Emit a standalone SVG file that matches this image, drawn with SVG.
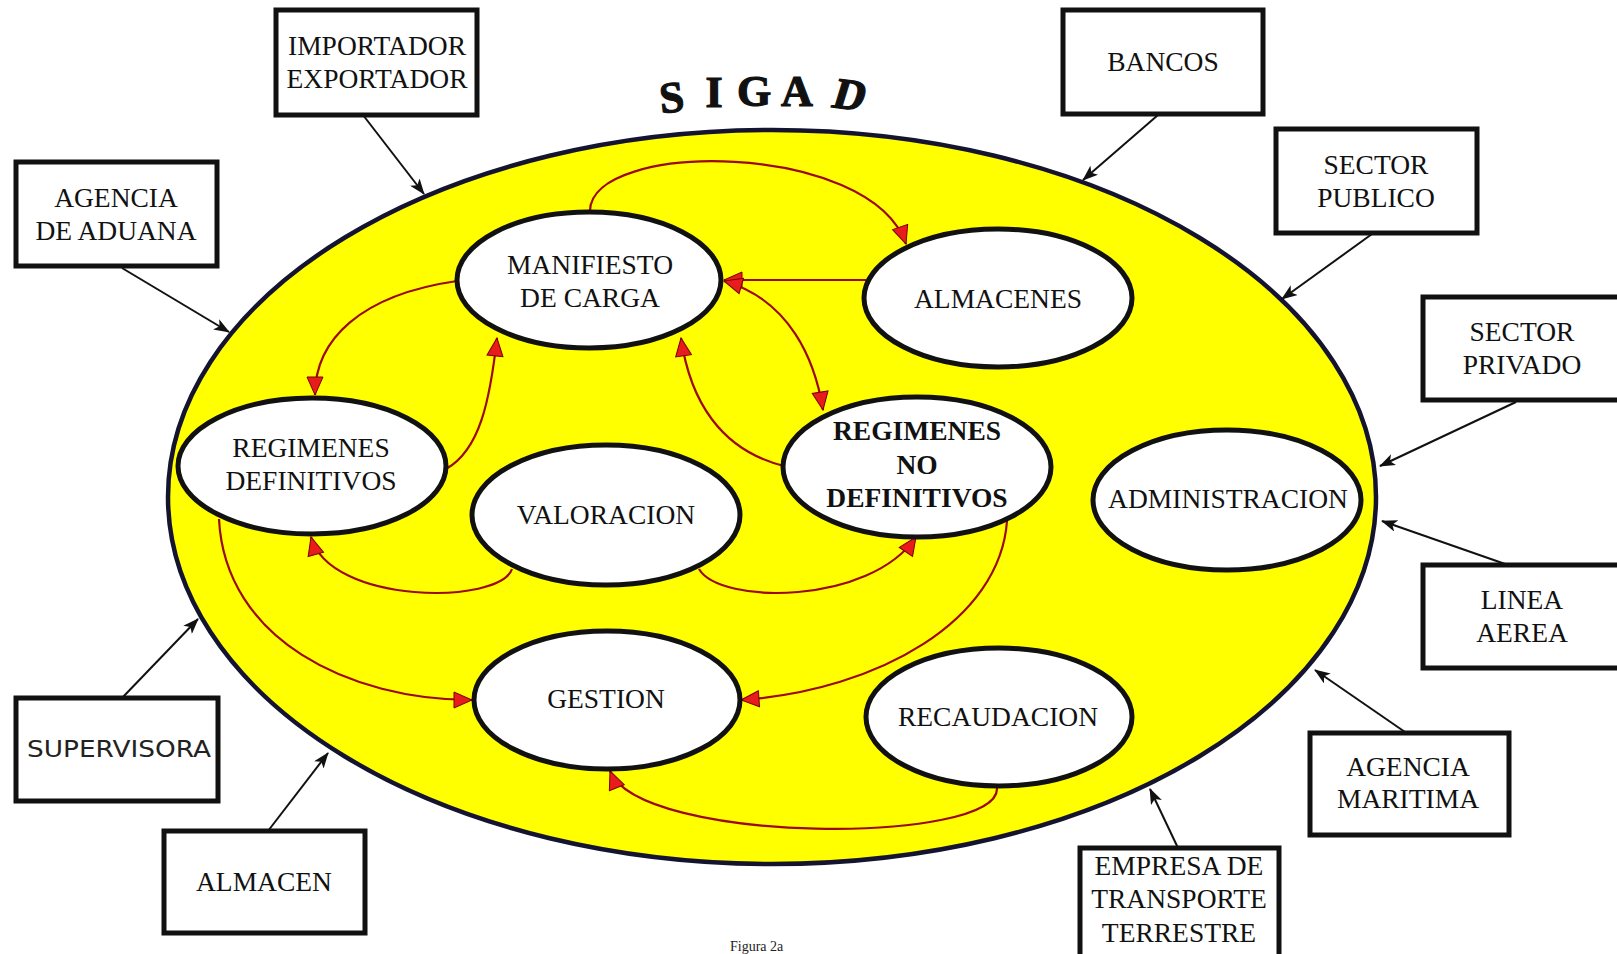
<svg xmlns="http://www.w3.org/2000/svg" width="1617" height="954" viewBox="0 0 1617 954">
<defs>
<style>
.box{fill:#fff;stroke:#111;stroke-width:5}
.node{fill:#fff;stroke:#111;stroke-width:5}
.t{font-family:"Liberation Serif","Times New Roman",serif;font-size:27.5px;fill:#111;text-anchor:middle}
.b{font-weight:bold}
.blk{fill:none;stroke:#111;stroke-width:2}
.red{fill:none;stroke:#9b0a0a;stroke-width:2.2}
</style>
<marker id="ab" viewBox="0 0 16 12" refX="15" refY="6" markerWidth="16" markerHeight="12" markerUnits="userSpaceOnUse" orient="auto">
<path d="M0,0 L16,6 L0,12 L4,6 z" fill="#111"/>
</marker>
<marker id="ar" viewBox="0 0 20 18" refX="19" refY="9" markerWidth="20" markerHeight="18" markerUnits="userSpaceOnUse" orient="auto-start-reverse">
<path d="M1,1 L19,9 L1,17 z" fill="#e81c1c" stroke="#7a0000" stroke-width="1"/>
</marker>
</defs>
<rect width="1617" height="954" fill="#fff"/>

<g id="sigad-system">
<ellipse cx="772" cy="497" rx="604" ry="367" fill="#ffff00" stroke="#141430" stroke-width="4.5"/>
</g>

<g id="title" font-family="'Liberation Serif','Times New Roman',serif" font-weight="bold" font-size="44" fill="#111" stroke="#111" stroke-width="1.2" text-anchor="middle">
<text x="672" y="112" transform="rotate(-6 672 100)">S</text>
<text x="714" y="107">I</text>
<text x="754" y="106">G</text>
<text x="797" y="106">A</text>
<text transform="translate(846 109) rotate(7) skewX(-10)">D</text>
</g>

<g id="connectors">
<line class="blk" x1="363" y1="115" x2="424" y2="194" marker-end="url(#ab)"/>
<line class="blk" x1="122" y1="268" x2="229" y2="332" marker-end="url(#ab)"/>
<line class="blk" x1="1158" y1="115" x2="1083" y2="180" marker-end="url(#ab)"/>
<line class="blk" x1="1372" y1="234" x2="1282" y2="299" marker-end="url(#ab)"/>
<line class="blk" x1="1516" y1="402" x2="1380" y2="466" marker-end="url(#ab)"/>
<line class="blk" x1="1508" y1="565" x2="1382" y2="521" marker-end="url(#ab)"/>
<line class="blk" x1="1405" y1="732" x2="1315" y2="670" marker-end="url(#ab)"/>
<line class="blk" x1="1178" y1="848" x2="1150" y2="789" marker-end="url(#ab)"/>
<line class="blk" x1="268" y1="831" x2="328" y2="753" marker-end="url(#ab)"/>
<line class="blk" x1="122" y1="698" x2="198" y2="619" marker-end="url(#ab)"/>

<path class="red" d="M590 211 C590 140 870 140 906 244" marker-end="url(#ar)"/>
<path class="red" d="M866 280 L724 280" marker-end="url(#ar)"/>
<path class="red" d="M724 281 C790 300 815 360 823 410" marker-start="url(#ar)" marker-end="url(#ar)"/>
<path class="red" d="M457 281 C360 295 315 340 315 395" marker-end="url(#ar)"/>
<path class="red" d="M446 469 C480 450 490 400 497 338" marker-end="url(#ar)"/>
<path class="red" d="M784 466 C720 450 690 400 681 338" marker-end="url(#ar)"/>
<path class="red" d="M512 569 C500 605 330 605 311 537" marker-end="url(#ar)"/>
<path class="red" d="M699 569 C720 605 870 605 916 537" marker-end="url(#ar)"/>
<path class="red" d="M219 519 C225 640 350 700 472 700" marker-end="url(#ar)"/>
<path class="red" d="M1007 521 C1000 620 880 690 741 700" marker-end="url(#ar)"/>
<path class="red" d="M997 788 C1000 845 640 845 610 771" marker-end="url(#ar)"/>
</g>

<g id="manifiesto">
<ellipse class="node" cx="589" cy="280" rx="132" ry="68"/>
<text class="t" x="590" y="274">MANIFIESTO</text>
<text class="t" x="590" y="307">DE CARGA</text>
</g>
<g id="almacenes">
<ellipse class="node" cx="998" cy="298" rx="134" ry="69"/>
<text class="t" x="998" y="308">ALMACENES</text>
</g>
<g id="regimenes-definitivos">
<ellipse class="node" cx="312" cy="466" rx="134" ry="68"/>
<text class="t" x="311" y="457">REGIMENES</text>
<text class="t" x="311" y="490">DEFINITIVOS</text>
</g>
<g id="valoracion">
<ellipse class="node" cx="606" cy="515" rx="134" ry="70"/>
<text class="t" x="606" y="524">VALORACION</text>
</g>
<g id="regimenes-no-definitivos">
<ellipse class="node" cx="917" cy="467" rx="134" ry="70"/>
<text class="t b" x="917" y="440">REGIMENES</text>
<text class="t b" x="917" y="474">NO</text>
<text class="t b" x="917" y="507">DEFINITIVOS</text>
</g>
<g id="administracion">
<ellipse class="node" cx="1227" cy="500" rx="134" ry="70"/>
<text class="t" x="1228" y="508" font-size="26">ADMINISTRACION</text>
</g>
<g id="gestion">
<ellipse class="node" cx="607" cy="700" rx="133" ry="69"/>
<text class="t" x="606" y="708">GESTION</text>
</g>
<g id="recaudacion">
<ellipse class="node" cx="999" cy="717" rx="133" ry="69"/>
<text class="t" x="998" y="726">RECAUDACION</text>
</g>

<g id="importador-exportador">
<rect class="box" x="276" y="10" width="201" height="105"/>
<text class="t" x="377" y="55">IMPORTADOR</text>
<text class="t" x="377" y="88">EXPORTADOR</text>
</g>
<g id="agencia-aduana">
<rect class="box" x="16" y="162" width="201" height="104"/>
<text class="t" x="116" y="207">AGENCIA</text>
<text class="t" x="116" y="240">DE ADUANA</text>
</g>
<g id="bancos">
<rect class="box" x="1063" y="10" width="200" height="104"/>
<text class="t" x="1163" y="71">BANCOS</text>
</g>
<g id="sector-publico">
<rect class="box" x="1276" y="129" width="201" height="104"/>
<text class="t" x="1376" y="174">SECTOR</text>
<text class="t" x="1376" y="207">PUBLICO</text>
</g>
<g id="sector-privado">
<rect class="box" x="1423" y="297" width="200" height="103"/>
<text class="t" x="1522" y="341">SECTOR</text>
<text class="t" x="1522" y="374">PRIVADO</text>
</g>
<g id="linea-aerea">
<rect class="box" x="1423" y="565" width="200" height="103"/>
<text class="t" x="1522" y="609">LINEA</text>
<text class="t" x="1522" y="642">AEREA</text>
</g>
<g id="agencia-maritima">
<rect class="box" x="1310" y="733" width="199" height="102"/>
<text class="t" x="1408" y="776">AGENCIA</text>
<text class="t" x="1408" y="808">MARITIMA</text>
</g>
<g id="empresa-transporte">
<rect class="box" x="1080" y="848" width="199" height="110"/>
<text class="t" x="1179" y="875">EMPRESA DE</text>
<text class="t" x="1179" y="908">TRANSPORTE</text>
<text class="t" x="1179" y="942">TERRESTRE</text>
</g>
<g id="supervisora">
<rect class="box" x="16" y="698" width="202" height="103"/>
<text x="27" y="757" font-family="'DejaVu Sans',sans-serif" font-size="23" fill="#222" textLength="184" lengthAdjust="spacingAndGlyphs">SUPERVISORA</text>
</g>
<g id="almacen">
<rect class="box" x="164" y="831" width="201" height="102"/>
<text class="t" x="264" y="891">ALMACEN</text>
</g>

<text x="730" y="951" font-family="'Liberation Serif','Times New Roman',serif" font-size="14" fill="#222">Figura 2a</text>
</svg>
